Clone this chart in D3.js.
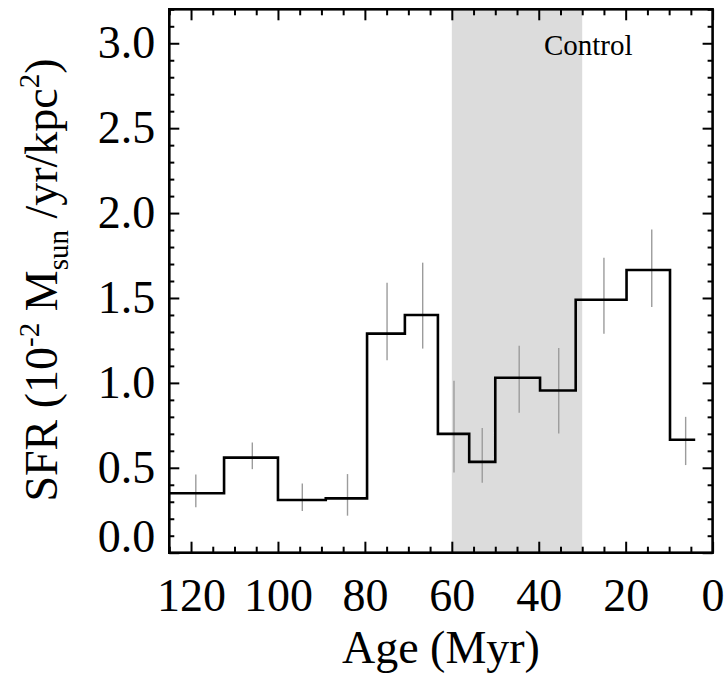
<!DOCTYPE html>
<html>
<head>
<meta charset="utf-8">
<title>SFR history</title>
<script src="https://d3js.org/d3.v7.min.js"></script>
<style>
  body { margin: 0; background: #fff; }
</style>
</head>
<body>
<script>
// bin edges in Myr (oldest first) and SFR per bin
var binEdges = [125, 112.4, 100, 89, 79.5, 70.8, 63.2, 56, 50, 39.7, 31.5, 19.8, 9.8, 4];
var sfr = [0.35, 0.56, 0.31, 0.32, 1.29, 1.40, 0.70, 0.535, 1.03, 0.955, 1.49, 1.665, 0.665];

// error bars
var errAge = [118.9, 105.9, 94.4, 84.0, 74.9, 66.7, 59.5, 53.0, 44.5, 35.4, 25.0, 14.0, 6.2];
var errLo = [0.267, 0.492, 0.245, 0.218, 1.134, 1.202, 0.473, 0.412, 0.824, 0.702, 1.29, 1.447, 0.516];
var errHi = [0.461, 0.649, 0.408, 0.463, 1.59, 1.708, 1.012, 0.735, 1.218, 1.206, 1.737, 1.904, 0.80];

// shaded control window
var controlRange = [60, 30];
var controlLabel = {age: 38.8, sfr: 2.93, text: 'Control'};

var xTicks = [120, 100, 80, 60, 40, 20, 0];
var yTicks = [0, 0.5, 1.0, 1.5, 2.0, 2.5, 3.0];

var FONT = '"Liberation Serif", "Times New Roman", Times, serif';
var W = 726, H = 677;
var m = {top: 9.3, right: 13.4, bottom: 124.3, left: 169.3};
var iw = W - m.left - m.right, ih = H - m.top - m.bottom;

var svg = d3.select('body').append('svg')
  .attr('width', W).attr('height', H)
  .style('font-family', FONT);
var g = svg.append('g').attr('transform', 'translate(' + m.left + ',' + m.top + ')');

var x = d3.scaleLinear().domain([125, 0]).range([0, iw]);
var y = d3.scaleLinear().domain([0, 3.2]).range([ih, 0]);

// shade
g.append('rect')
  .attr('x', x(controlRange[0]))
  .attr('y', 0)
  .attr('width', x(controlRange[1]) - x(controlRange[0]))
  .attr('height', ih)
  .attr('fill', '#dcdcdc');

// error bars
g.selectAll('.err')
  .data(errAge)
  .enter().append('line')
  .attr('class', 'err')
  .attr('x1', function(d) { return x(d); })
  .attr('x2', function(d) { return x(d); })
  .attr('y1', function(d, i) { return y(errLo[i]); })
  .attr('y2', function(d, i) { return y(errHi[i]); })
  .attr('stroke', '#9c9c9c')
  .attr('stroke-width', 1.4);

// step line
var pts = [];
sfr.forEach(function(v, i) {
  pts.push([binEdges[i], v]);
  pts.push([binEdges[i + 1], v]);
});
g.append('path')
  .datum(pts)
  .attr('fill', 'none')
  .attr('stroke', '#000')
  .attr('stroke-width', 2.6)
  .attr('d', d3.line().x(function(d) { return x(d[0]); }).y(function(d) { return y(d[1]); }));

// control label
g.append('text')
  .attr('x', x(controlLabel.age))
  .attr('y', y(controlLabel.sfr))
  .attr('font-family', FONT)
  .attr('font-size', 29)
  .text(controlLabel.text);

// axes with inward ticks
var minorX = d3.range(0, 126, 5).filter(function(d) { return xTicks.indexOf(d) < 0; });
var minorY = d3.range(0, 33).map(function(d) { return d / 10; }).filter(function(d) { return d % 0.5 > 0.01 && d % 0.5 < 0.49; });

function styleAxis(sel) {
  sel.attr('font-family', FONT);
  sel.select('.domain').remove();
  sel.selectAll('line').attr('stroke', '#000').attr('stroke-width', 2);
  sel.selectAll('text').attr('font-family', FONT).attr('fill', '#000');
}

g.append('g').attr('transform', 'translate(0,' + ih + ')')
  .call(d3.axisBottom(x).tickValues(xTicks).tickSize(-11).tickFormat(d3.format('d')))
  .call(styleAxis)
  .selectAll('text').attr('font-size', 46).attr('dy', '0.71em').attr('y', 26);
g.append('g').attr('transform', 'translate(0,' + ih + ')')
  .call(d3.axisBottom(x).tickValues(minorX).tickSize(-6).tickFormat(''))
  .call(styleAxis);
g.append('g')
  .call(d3.axisTop(x).tickValues(xTicks).tickSize(-11).tickFormat(''))
  .call(styleAxis);
g.append('g')
  .call(d3.axisTop(x).tickValues(minorX).tickSize(-6).tickFormat(''))
  .call(styleAxis);

var yAx = g.append('g')
  .call(d3.axisLeft(y).tickValues(yTicks).tickSize(-10).tickFormat(d3.format('.1f')))
  .call(styleAxis);
yAx.selectAll('text').attr('font-size', 46).attr('x', -14);
yAx.selectAll('.tick').filter(function(d) { return d === 0; }).select('text').attr('y', -16);
g.append('g')
  .call(d3.axisLeft(y).tickValues(minorY).tickSize(-5).tickFormat(''))
  .call(styleAxis);
g.append('g').attr('transform', 'translate(' + iw + ',0)')
  .call(d3.axisRight(y).tickValues(yTicks).tickSize(-10).tickFormat(''))
  .call(styleAxis);
g.append('g').attr('transform', 'translate(' + iw + ',0)')
  .call(d3.axisRight(y).tickValues(minorY).tickSize(-5).tickFormat(''))
  .call(styleAxis);

// frame
g.append('rect')
  .attr('width', iw).attr('height', ih)
  .attr('fill', 'none').attr('stroke', '#000').attr('stroke-width', 2.6);

// axis titles
svg.append('text')
  .attr('x', m.left + iw / 2)
  .attr('y', 663)
  .attr('text-anchor', 'middle')
  .attr('font-family', FONT)
  .attr('font-size', 46)
  .text('Age (Myr)');

var yl = svg.append('text')
  .attr('transform', 'translate(57,280) rotate(-90)')
  .attr('text-anchor', 'middle')
  .attr('font-family', FONT)
  .attr('font-size', 46);
yl.append('tspan').text('SFR (10');
yl.append('tspan').attr('font-size', 29).attr('dy', -18).text('-2');
yl.append('tspan').attr('dy', 18).text(' M');
yl.append('tspan').attr('font-size', 29).attr('dy', 11).text('sun');
yl.append('tspan').attr('dy', -11).text(' /yr/kpc');
yl.append('tspan').attr('font-size', 29).attr('dy', -18).text('2');
yl.append('tspan').attr('dy', 18).text(')');
</script>
</body>
</html>
